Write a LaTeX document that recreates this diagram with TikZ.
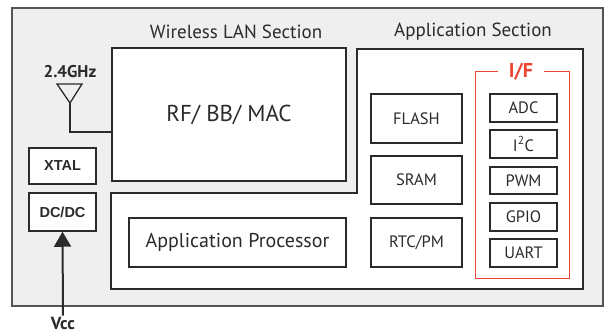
\documentclass[tikz,border=0pt]{standalone}
\usepackage{fontspec}
\setmainfont{PT Sans}
\newfontfamily\arialfont{Liberation Sans}
\usetikzlibrary{arrows.meta}
\definecolor{bgray}{HTML}{EFEFEF}
\definecolor{dline}{HTML}{2B2B2B}
\definecolor{ifred}{HTML}{EE4433}
\tikzset{
  box/.style={draw=dline, line width=1.3pt, fill=white, inner sep=0pt, font=\fontsize{16.5}{18}\selectfont, text=dline},
  smallbox/.style={box, minimum width=67pt, minimum height=28pt, font=\fontsize{16.5}{18}\selectfont},
  title/.style={font=\fontsize{19}{21}\selectfont, text=dline, inner sep=0pt},
  boldlbl/.style={font=\arialfont\bfseries\fontsize{14.5}{16}\selectfont, text=dline},
}
\begin{document}
\begin{tikzpicture}[x=1pt,y=-1pt]
\useasboundingbox (0,0) rectangle (606,336);
\fill[white] (0,0) rectangle (606,336);
% outer
\node[draw=dline!80, line width=1.4pt, fill=bgray, minimum width=591pt, minimum height=298pt, inner sep=0pt] (outer) at (307.5,157) {};
% titles
\node[title] (wlan) at (236,32) {Wireless LAN Section};
\node[title] (appsec) at (473,32) {Application Section};
% application section outline
\draw[draw=dline, line width=1.9pt, fill=white] (357,49) -- (583,49) -- (583,289) -- (111,289) -- (111,193) -- (357,193) -- cycle;
% RF box
\node[box, line width=1.5pt, minimum width=234pt, minimum height=133pt, font=\fontsize{23}{25}\selectfont] (rf) at (229,114.5) {RF/ BB/ MAC};
% antenna
\node[font=\bfseries\fontsize{17}{19}\selectfont, text=dline, inner sep=0pt] (ghz) at (70,72) {2.4GHz};
\coordinate (tl) at (57,84);
\coordinate (tr) at (82,84);
\coordinate (apex) at (70,103);
\coordinate (bend) at (70,132);
\draw[dline, line width=1.3pt, line join=miter] (tl) -- (tr) -- (apex) -- cycle;
\draw[dline, line width=1.3pt] (apex) -- (bend) -- (rf.west |- bend);
% XTAL, DC/DC
\node[box, line width=1.5pt, minimum width=67pt, minimum height=36pt, boldlbl] (xtal) at (62.5,166) {XTAL};
\node[box, line width=1.5pt, minimum width=67pt, minimum height=38pt, boldlbl] (dcdc) at (62.5,212) {DC/DC};
\node[font=\bfseries\fontsize{17.5}{19}\selectfont, text=dline, inner sep=0pt] (vcc) at (63,324) {Vcc};
\draw[dline, line width=2pt, -{Triangle[width=17pt,length=15pt]}] (vcc.north) ++(0,-2) -- (dcdc.south);
% application processor and memories
\node[box, minimum width=217pt, minimum height=49pt, font=\fontsize{20}{22}\selectfont] (ap) at (237.5,242.5) {Application Processor};
\node[box, minimum width=91pt, minimum height=49pt] (flash) at (416.5,118.5) {FLASH};
\node[box, minimum width=91pt, minimum height=48pt] (sram) at (416.5,180) {SRAM};
\node[box, minimum width=91pt, minimum height=49pt] (rtc) at (416.5,242.5) {RTC/PM};
% I/F group
\draw[ifred, line width=1pt] (498,72) -- (475,72) -- (475,279) -- (569,279) -- (569,72) -- (544,72);
\node[text=ifred, font=\bfseries\fontsize{20}{22}\selectfont, inner sep=0pt] (iftitle) at (521,72) {I/F};
\node[smallbox] (adc) at (523.5,108) {ADC};
\node[smallbox] (i2c) at (523.5,144) {I\textsuperscript{2}C};
\node[smallbox, minimum height=27pt] (pwm) at (523.5,180.5) {PWM};
\node[smallbox] (gpio) at (523.5,217) {GPIO};
\node[smallbox] (uart) at (523.5,253) {UART};
\end{tikzpicture}
\end{document}
